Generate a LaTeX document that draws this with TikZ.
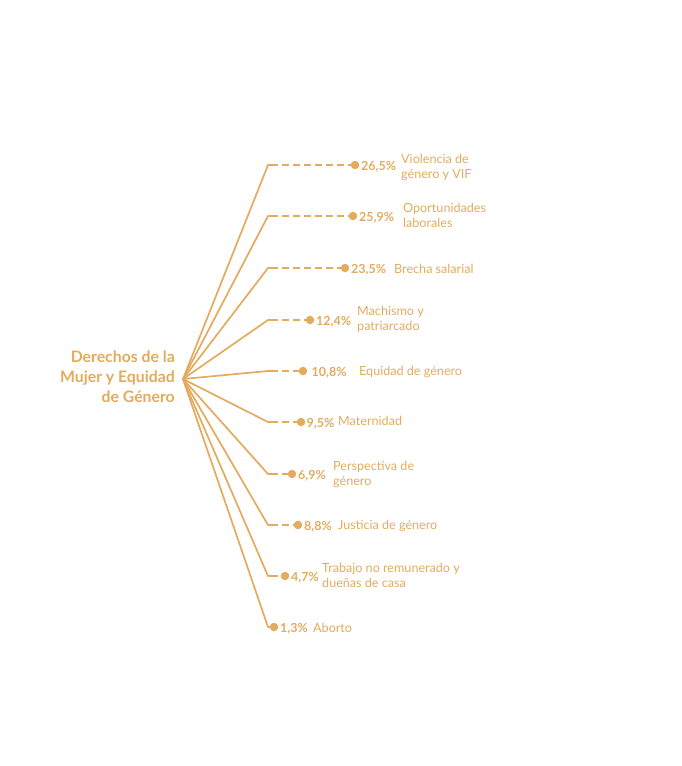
\documentclass[tikz,border=0pt]{standalone}
\usepackage{fontspec}
\setmainfont{Lato}
\definecolor{gold}{RGB}{227,171,94}
\begin{document}
\begin{tikzpicture}[x=1pt,y=-1pt,
  branch/.style={draw=gold,line width=1.7pt},
  dashbranch/.style={draw=gold,line width=1.6pt,dash pattern=on 7pt off 4pt},
  dotnode/.style={circle,fill=gold,inner sep=0pt,minimum size=8.5pt},
  pct/.style={anchor=west,inner sep=0pt,text=gold,font=\fontsize{12.5}{14}\selectfont\bfseries},
  lab/.style={anchor=west,inner sep=0pt,text=gold,align=left,font=\fontsize{12.6}{15.8}\selectfont},
  title/.style={anchor=east,inner sep=0pt,text=gold,align=right,font=\fontsize{15.8}{20}\selectfont\bfseries}]
\useasboundingbox (0,0) rectangle (682,766);
\coordinate (hub) at (183,379);
\node[title] (t) at (175,377) {Derechos de la\\Mujer y Equidad\\de Género};
\foreach \i/\y/\dx/\g/\p/\lx/\ly/\l in {
  1/165/355/1.5/{26,5\%}/401/167.5/{Violencia de\\género y VIF},
  2/216/353/1.5/{25,9\%}/403/215.5/{Oportunidades\\laborales},
  3/268/345/1.5/{23,5\%}/394/269/{Brecha salarial},
  4/320/310/1.5/{12,4\%}/357/319.5/{Machismo y\\patriarcado},
  5/371/303/4/{10,8\%}/359/372/{Equidad de género},
  6/422/301/1/{9,5\%}/338/421/{Maternidad},
  7/474/292/1.5/{6,9\%}/333/474.5/{Perspectiva de\\género},
  8/525/298/1.5/{8,8\%}/338/526/{Justicia de género},
  9/576/285/1.5/{4,7\%}/322/575.5/{Trabajo no remunerado y\\dueñas de casa},
  10/627/274/1.5/{1,3\%}/313/627.5/{Aborto}}{
  \coordinate (e\i) at (268,\y);
  \node[dotnode] (d\i) at (\dx,\y) {};
  \draw[branch,line join=round] (hub) -- (e\i) -- ++(3,0);
  \draw[dashbranch] ([xshift=3pt]e\i) -- (d\i.center);
  \node[pct] (p\i) at ([xshift=\g pt,yshift=-1.5pt]d\i.east) {\p};
  \node[lab] (l\i) at (\lx,\ly) {\l};
}
\end{tikzpicture}
\end{document}
